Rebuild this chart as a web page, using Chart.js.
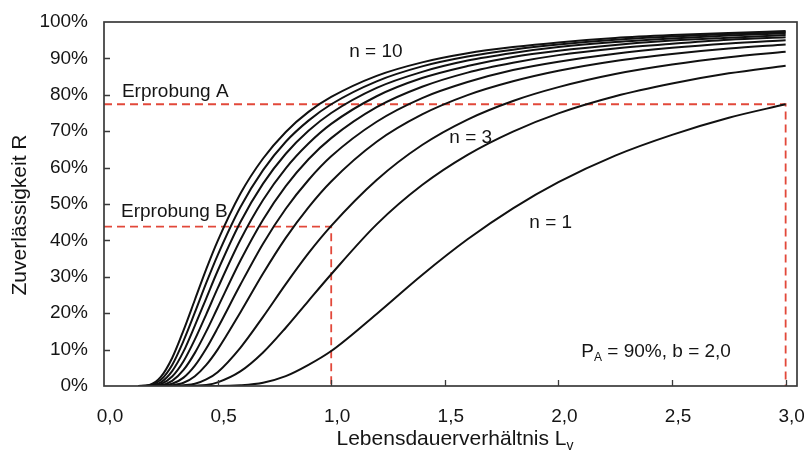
<!DOCTYPE html>
<html>
<head>
<meta charset="utf-8">
<script src="https://cdn.jsdelivr.net/npm/chart.js@4.4.1/dist/chart.umd.min.js"></script>
<style>
html, body { margin: 0; padding: 0; background: #fff; }
</style>
</head>
<body>
<canvas id="chart" width="804" height="450"></canvas>
<script>
// Lebensdauerverhaeltnis Lv (x)
var lv = [0.15, 0.2, 0.25, 0.3, 0.35, 0.4, 0.45, 0.5, 0.6, 0.7, 0.8, 0.9, 1.0, 1.2, 1.4, 1.6, 1.8, 2.0, 2.25, 2.5, 2.75, 3.0];

// Zuverlaessigkeit R in % for n = 1 .. 10
var n1  = [0, 0, 0, 0, 0, 0, 0, 0, 0.2, 0.9, 2.7, 5.8, 9.6, 19.8, 30.5, 40.3, 48.8, 56.0, 63.3, 69.0, 73.7, 77.4];
var n2  = [0, 0, 0, 0, 0, 0.1, 0.3, 1.0, 4.0, 9.2, 16.0, 23.4, 30.7, 44.4, 55.2, 63.5, 69.9, 74.9, 79.6, 83.1, 85.9, 88.0];
var n3  = [0, 0, 0, 0, 0.2, 0.6, 1.8, 3.8, 10.5, 19.0, 28.0, 36.5, 44.0, 56.6, 66.2, 73.2, 78.3, 82.1, 85.7, 88.3, 90.3, 91.8];
var n4  = [0, 0, 0, 0.2, 0.9, 2.7, 5.8, 10.0, 20.2, 30.9, 40.7, 49.1, 56.2, 67.1, 74.6, 79.9, 83.7, 86.6, 89.3, 91.2, 92.7, 93.8];
var n5  = [0, 0, 0.1, 0.6, 2.3, 5.6, 10.3, 15.9, 27.8, 39.1, 48.7, 56.6, 63.1, 72.6, 79.1, 83.5, 86.8, 89.1, 91.3, 92.9, 94.1, 95.0];
var n6  = [0, 0, 0.2, 1.4, 4.4, 9.1, 15.0, 21.5, 34.4, 45.7, 54.9, 62.3, 68.1, 76.6, 82.2, 86.1, 88.8, 90.9, 92.7, 94.0, 95.1, 95.8];
var n7  = [0, 0, 0.5, 2.6, 6.8, 12.8, 19.7, 26.8, 40.1, 51.1, 59.8, 66.6, 72.0, 79.6, 84.6, 87.9, 90.4, 92.1, 93.7, 94.9, 95.7, 96.4];
var n8  = [0, 0.1, 1.0, 4.1, 9.5, 16.6, 24.1, 31.6, 45.0, 55.6, 63.8, 70.1, 75.0, 81.9, 86.3, 89.4, 91.5, 93.1, 94.5, 95.5, 96.3, 96.9];
var n9  = [0, 0.2, 1.7, 5.8, 12.4, 20.2, 28.3, 35.9, 49.1, 59.3, 67.1, 72.9, 77.4, 83.7, 87.8, 90.5, 92.4, 93.8, 95.1, 96.0, 96.7, 97.2];
var n10 = [0, 0.3, 2.5, 7.7, 15.3, 23.7, 32.1, 39.8, 52.8, 62.5, 69.8, 75.3, 79.4, 85.2, 88.9, 91.4, 93.1, 94.4, 95.6, 96.4, 97.0, 97.5];
var curves = [n1, n2, n3, n4, n5, n6, n7, n8, n9, n10];

// Erprobung A / B (dashed guide lines)
var erprobungA_x = [0, 3.0, 3.0];
var erprobungA_y = [77.4, 77.4, 0];
var erprobungB_x = [0, 1.0, 1.0];
var erprobungB_y = [43.8, 43.8, 0];

var xTicks = [0, 0.5, 1.0, 1.5, 2.0, 2.5, 3.0];

var FONT = '"Liberation Sans", Arial, sans-serif';
var TXT = '#151515';

var notes = [
  { parts: [{ t: 'n = 10' }], x: 1.079, y: 91.9 },
  { parts: [{ t: 'Erprobung A' }], x: 0.079, y: 80.9 },
  { parts: [{ t: 'Erprobung B' }], x: 0.075, y: 48.0 },
  { parts: [{ t: 'n = 3' }], x: 1.52, y: 68.3 },
  { parts: [{ t: 'n = 1' }], x: 1.872, y: 44.9 },
  { parts: [{ t: 'P' }, { t: 'A', sub: true }, { t: ' = 90%, b = 2,0' }], x: 2.101, y: 9.5 }
];

function pts(xs, ys) {
  return xs.map(function (x, i) { return { x: x, y: ys[i] }; });
}

function richWidth(ctx, parts, size) {
  var w = 0;
  parts.forEach(function (p) {
    ctx.font = (p.sub ? Math.round(size * 0.65) : size) + 'px ' + FONT;
    w += ctx.measureText(p.t).width;
  });
  return w;
}

function drawRich(ctx, parts, x, y, size) {
  ctx.textBaseline = 'middle';
  ctx.textAlign = 'left';
  parts.forEach(function (p) {
    var s = p.sub ? Math.round(size * 0.65) : size;
    ctx.font = s + 'px ' + FONT;
    ctx.fillText(p.t, x, p.sub ? y + size * 0.32 : y);
    x += ctx.measureText(p.t).width;
  });
}

var decor = {
  id: 'decor',
  afterDatasetsDraw: function (chart) {
    var ctx = chart.ctx, a = chart.chartArea;
    var xs = chart.scales.x, ys = chart.scales.y;
    ctx.save();
    // frame
    ctx.strokeStyle = '#3a3a3a';
    ctx.lineWidth = 1.7;
    ctx.strokeRect(a.left, a.top, a.right - a.left, a.bottom - a.top);
    // inward ticks
    ctx.beginPath();
    for (var v = 10; v < 100; v += 10) {
      var py = Math.round(ys.getPixelForValue(v)) + 0.5;
      ctx.moveTo(a.left, py); ctx.lineTo(a.left + 6, py);
    }
    xTicks.forEach(function (t) {
      if (t === 0) return;
      var px = Math.round(xs.getPixelForValue(t)) + 0.5;
      ctx.moveTo(px, a.bottom); ctx.lineTo(px, a.bottom - 6);
    });
    ctx.lineWidth = 1.3;
    ctx.stroke();
    // notes
    ctx.fillStyle = TXT;
    notes.forEach(function (n) {
      drawRich(ctx, n.parts, xs.getPixelForValue(n.x), ys.getPixelForValue(n.y), 19);
    });
    // axis titles
    var xt = [{ t: 'Lebensdauerverhältnis L' }, { t: 'v', sub: true }];
    var w = richWidth(ctx, xt, 21);
    drawRich(ctx, xt, 455 - w / 2, 439, 21);
    ctx.translate(20, 215);
    ctx.rotate(-Math.PI / 2);
    ctx.font = '21px ' + FONT;
    ctx.textAlign = 'center';
    ctx.textBaseline = 'middle';
    ctx.fillText('Zuverlässigkeit R', 0, 0);
    ctx.restore();
  }
};

var datasets = curves.map(function (c, i) {
  return {
    label: 'n = ' + (i + 1),
    data: pts(lv, c),
    borderColor: '#111',
    borderWidth: 2,
    pointRadius: 0,
    fill: false,
    cubicInterpolationMode: 'monotone'
  };
});
[[erprobungA_x, erprobungA_y, 'Erprobung A'], [erprobungB_x, erprobungB_y, 'Erprobung B']].forEach(function (e) {
  datasets.push({
    label: e[2],
    data: pts(e[0], e[1]),
    borderColor: '#e2483a',
    borderWidth: 1.8,
    borderDash: [8, 5],
    pointRadius: 0,
    fill: false,
    tension: 0
  });
});

new Chart(document.getElementById('chart'), {
  type: 'line',
  data: { datasets: datasets },
  options: {
    responsive: false,
    animation: false,
    devicePixelRatio: 1,
    layout: { padding: { left: 0, right: 7, top: 22, bottom: 0 } },
    plugins: { legend: { display: false }, tooltip: { enabled: false } },
    scales: {
      x: {
        type: 'linear',
        min: 0,
        max: 3.05,
        grid: { display: false, drawTicks: false },
        border: { display: false },
        afterBuildTicks: function (s) {
          s.ticks = xTicks.map(function (v) { return { value: v }; });
        },
        afterFit: function (s) {
          s.height = 64;
          s.paddingLeft = 0;
          s.paddingRight = 0;
        },
        ticks: {
          padding: 19,
          labelOffset: 6,
          color: TXT,
          font: { family: FONT, size: 19 },
          maxRotation: 0,
          callback: function (v) { return Number(v).toFixed(1).replace('.', ','); }
        }
      },
      y: {
        min: 0,
        max: 100,
        grid: { display: false, drawTicks: false },
        border: { display: false },
        afterFit: function (s) {
          s.width = 104;
          s.paddingTop = 0;
          s.paddingBottom = 0;
        },
        ticks: {
          stepSize: 10,
          padding: 16,
          color: TXT,
          font: { family: FONT, size: 19 },
          callback: function (v) { return v + '%'; }
        }
      }
    }
  },
  plugins: [decor]
});
</script>
</body>
</html>
